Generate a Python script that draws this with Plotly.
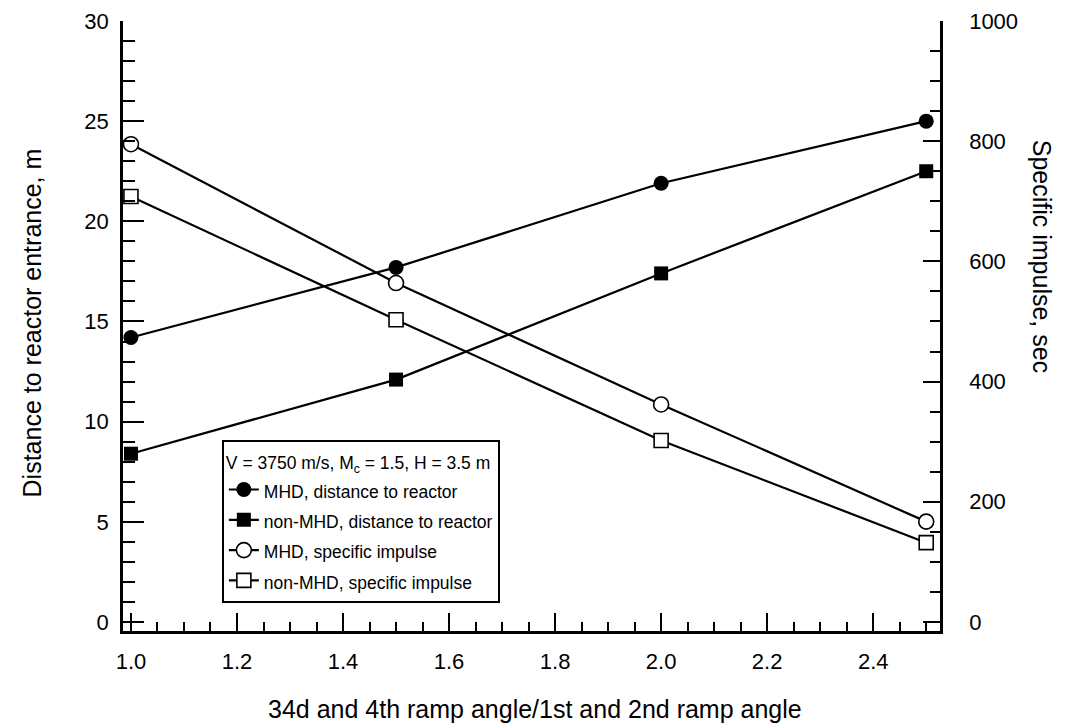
import plotly.graph_objects as go

ratio = [1.0, 1.5, 2.0, 2.5]
mhd_distance = [14.2, 17.7, 21.9, 25.0]
nonmhd_distance = [8.4, 12.1, 17.4, 22.5]
mhd_isp = [795, 564, 362, 167]
nonmhd_isp = [708, 503, 302, 132]

names = ["MHD, distance to reactor", "non-MHD, distance to reactor",
         "MHD, specific impulse", "non-MHD, specific impulse"]
legend_title = "V = 3750 m/s, M<sub>c</sub> = 1.5, H = 3.5 m"

FONT = "Liberation Sans, Arial, Helvetica, sans-serif"


def small(txt):
    return "<span style='font-size:17.5px'>" + txt + "</span>"


fig = go.Figure()
line = dict(color="black", width=2.2)
fig.add_trace(go.Scatter(x=ratio, y=mhd_distance, name=small(names[0]), mode="lines+markers",
                         line=line, marker=dict(symbol="circle", size=15, color="black"), yaxis="y"))
fig.add_trace(go.Scatter(x=ratio, y=nonmhd_distance, name=small(names[1]), mode="lines+markers",
                         line=line, marker=dict(symbol="square", size=14, color="black"), yaxis="y"))
fig.add_trace(go.Scatter(x=ratio, y=mhd_isp, name=small(names[2]), mode="lines+markers",
                         line=line, marker=dict(symbol="circle", size=15, color="white",
                                                line=dict(color="black", width=1.6)), yaxis="y2"))
fig.add_trace(go.Scatter(x=ratio, y=nonmhd_isp, name=small(names[3]), mode="lines+markers",
                         line=line, marker=dict(symbol="square", size=14, color="white",
                                                line=dict(color="black", width=1.6)), yaxis="y2"))

tickfont = dict(family=FONT, size=22, color="black")
fig.update_layout(
    width=1063, height=719,
    margin=dict(l=115, r=131, t=13, b=96, autoexpand=False),
    paper_bgcolor="white", plot_bgcolor="white",
    font=dict(family=FONT, size=22, color="black"),
    xaxis=dict(range=[0.985, 2.526], tick0=1.0, dtick=0.2, tickformat=".1f",
               showline=True, linecolor="black", linewidth=2.5, mirror=False,
               ticks="inside", ticklen=18, tickwidth=2, tickcolor="black",
               minor=dict(dtick=0.05, tick0=1.0, ticks="inside", ticklen=9, tickwidth=2, tickcolor="black"),
               showgrid=False, zeroline=False, tickfont=tickfont, ticklabelstandoff=9,
               automargin=False),
    yaxis=dict(range=[-0.45, 30], tick0=0, dtick=5,
               showline=True, linecolor="black", linewidth=2.5,
               ticks="inside", ticklen=21, tickwidth=2, tickcolor="black",
               minor=dict(dtick=1, ticks="inside", ticklen=12, tickwidth=2, tickcolor="black"),
               showgrid=False, zeroline=False, tickfont=tickfont, ticklabelstandoff=7,
               automargin=False),
    yaxis2=dict(range=[-15, 1000], tick0=0, dtick=200, overlaying="y", side="right",
                showline=True, linecolor="black", linewidth=2.5,
                ticks="inside", ticklen=17, tickwidth=2, tickcolor="black",
                minor=dict(dtick=50, ticks="inside", ticklen=10, tickwidth=2, tickcolor="black"),
                showgrid=False, zeroline=False, tickfont=tickfont, ticklabelstandoff=22,
                automargin=False),
    legend=dict(x=0.121, y=0.313, xanchor="left", yanchor="top",
                bordercolor="black", borderwidth=2, bgcolor="white",
                font=dict(family=FONT, size=21, color="black"),
                title=dict(text=small(legend_title),
                           font=dict(family=FONT, size=21, color="black"), side="top"),
                tracegroupgap=0),
    showlegend=True,
)

titlefont = dict(family=FONT, size=25, color="black")
fig.add_annotation(text="Distance to reactor entrance, m", xref="paper", yref="paper",
                   x=-0.112, y=0.505, textangle=-90, showarrow=False,
                   font=titlefont, xanchor="center", yanchor="middle")
fig.add_annotation(text="Specific impulse, sec", xref="paper", yref="paper",
                   x=1.125, y=0.615, textangle=90, showarrow=False,
                   font=titlefont, xanchor="center", yanchor="middle")
fig.add_annotation(text="34d and 4th ramp angle/1st and 2nd ramp angle", xref="paper", yref="paper",
                   x=0.504, y=-0.128, showarrow=False,
                   font=titlefont, xanchor="center", yanchor="middle")

fig.write_html("out.html")
